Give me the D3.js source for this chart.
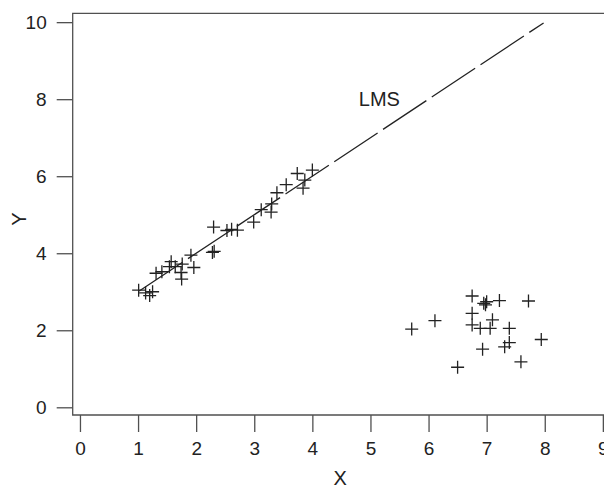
<html>
<script src="https://d3js.org/d3.v7.min.js"></script>
<style>
  body { margin: 0; background: #fff; }
  text { font-family: "Liberation Sans", Arial, sans-serif; fill: #222; }
</style>
<body>
</body>
<script>
    var width = 604, height = 486;

    // points that follow the line
    let goodX = [1.01, 1.13, 1.20, 1.25, 1.31, 1.41, 1.54, 1.57, 1.64, 1.76, 1.74, 1.75, 1.91, 1.96,
                 2.28, 2.31, 2.30, 2.53, 2.61, 2.71, 2.99, 3.12, 3.29, 3.30, 3.39, 3.55, 3.74, 3.87, 3.84, 4.00];
    let goodY = [3.04, 2.97, 2.90, 3.00, 3.48, 3.52, 3.65, 3.78, 3.65, 3.72, 3.50, 3.33, 3.95, 3.63,
                 4.02, 4.05, 4.68, 4.59, 4.62, 4.60, 4.81, 5.13, 5.07, 5.28, 5.57, 5.78, 6.07, 5.90, 5.69, 6.16];
    // outlying cluster
    let badX = [5.71, 6.11, 6.75, 6.95, 7.00, 6.98, 7.22, 7.72, 6.75, 7.10, 6.75, 6.89, 7.06, 7.39,
                7.94, 7.39, 7.31, 6.93, 7.59, 6.50];
    let badY = [2.03, 2.25, 2.89, 2.70, 2.74, 2.66, 2.77, 2.76, 2.44, 2.27, 2.14, 2.05, 2.05, 2.05,
                1.76, 1.68, 1.57, 1.51, 1.18, 1.04];

    // LMS line y = a + b x
    let lmsIntercept = 2.0, lmsSlope = 1.0;
    let lmsRange = [1.02, 7.98];
    let lmsLabel = {x: 4.8, y: 8.0, text: "LMS"};

    let xTicks = [0, 1, 2, 3, 4, 5, 6, 7, 8, 9];
    let yTicks = [0, 2, 4, 6, 8, 10];

    let svg = d3.select("body").append("svg")
        .attr("width", width)
        .attr("height", height);

    let x = d3.scaleLinear().domain([-0.125, 9.08]).range([72.7, 607.5]);
    let y = d3.scaleLinear().domain([-0.2, 10.23]).range([415, 13.3]);

    let frameColor = "#505050";

    // x axis
    let xAxis = svg.append("g")
        .attr("transform", "translate(0," + y.range()[0] + ")")
        .call(d3.axisBottom(x).tickValues(xTicks).tickSize(17).tickSizeOuter(0).tickPadding(10).tickFormat(d3.format("d")));
    xAxis.select(".domain").remove();
    xAxis.selectAll("line").attr("stroke", frameColor).attr("stroke-width", 1.3);
    xAxis.selectAll("text").attr("font-size", 19).attr("fill", "#222")
        .attr("font-family", "Liberation Sans, Arial, sans-serif");

    // y axis
    let yAxis = svg.append("g")
        .attr("transform", "translate(" + x.range()[0] + ",0)")
        .call(d3.axisLeft(y).tickValues(yTicks).tickSize(16).tickSizeOuter(0).tickPadding(10).tickFormat(d3.format("d")));
    yAxis.select(".domain").remove();
    yAxis.selectAll("line").attr("stroke", frameColor).attr("stroke-width", 1.3);
    yAxis.selectAll("text").attr("font-size", 19).attr("fill", "#222")
        .attr("font-family", "Liberation Sans, Arial, sans-serif");

    // frame (right side is off the page)
    svg.append("path")
        .attr("d", "M" + x.range()[1] + "," + y.range()[1] + "H" + x.range()[0] + "V" + y.range()[0] + "H" + x.range()[1])
        .attr("fill", "none")
        .attr("stroke", frameColor)
        .attr("stroke-width", 1.3);

    // LMS line
    let line = d3.line()
        .x(d => x(d))
        .y(d => y(lmsIntercept + lmsSlope * d));
    svg.append("path")
        .datum(lmsRange)
        .attr("d", line)
        .attr("fill", "none")
        .attr("stroke", "#222")
        .attr("stroke-width", 1.3)
        .attr("stroke-dasharray", "52,6.5");

    svg.append("text")
        .attr("x", x(lmsLabel.x))
        .attr("y", y(lmsLabel.y) + 7)
        .attr("font-size", 20)
        .text(lmsLabel.text);

    // points as plus signs
    let pts = goodX.map((v, i) => [v, goodY[i]]).concat(badX.map((v, i) => [v, badY[i]]));
    let s = 6.5;
    svg.append("g").selectAll("path")
        .data(pts)
        .join("path")
        .attr("d", d => {
            let px = x(d[0]), py = y(d[1]);
            return "M" + (px - s) + "," + py + "H" + (px + s) + "M" + px + "," + (py - s) + "V" + (py + s);
        })
        .attr("stroke", "#222")
        .attr("stroke-width", 1.3)
        .attr("fill", "none");

    // axis titles
    svg.append("text")
        .attr("x", (x.range()[0] + x.range()[1]) / 2)
        .attr("y", 485)
        .attr("text-anchor", "middle")
        .attr("font-size", 20)
        .text("X");

    svg.append("text")
        .attr("transform", "translate(26,219) rotate(-90)")
        .attr("text-anchor", "middle")
        .attr("font-size", 20)
        .text("Y");
</script>
</html>
